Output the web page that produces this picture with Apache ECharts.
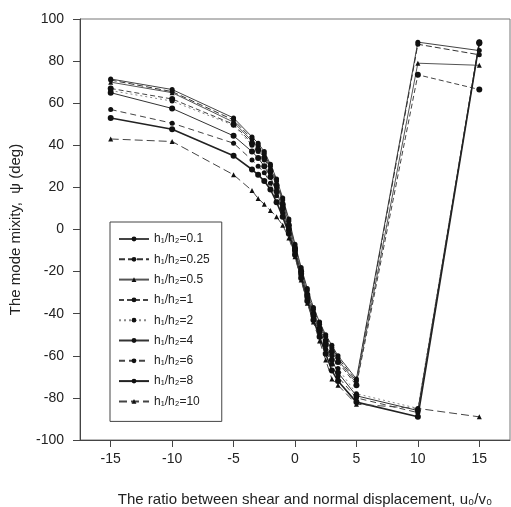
<!DOCTYPE html>
<html><head><meta charset="utf-8">
<script src="https://cdn.jsdelivr.net/npm/echarts@6/dist/echarts.min.js"></script>
<style>html,body{margin:0;padding:0;background:#fff}#c{width:511px;height:507px}</style>
</head><body><div id="c"></div>
<script>
// x positions (u0/v0) shared by every series
const xValues = [-15,-10,-5,-3.5,-3,-2.5,-2,-1.5,-1,-0.5,0,0.5,1,1.5,2,2.5,3,3.5,5,10,15];
const xTicks = [-15,-10,-5,0,5,10,15];
const seriesNames = ['h₁/h₂=0.1','h₁/h₂=0.25','h₁/h₂=0.5','h₁/h₂=1','h₁/h₂=2','h₁/h₂=4','h₁/h₂=6','h₁/h₂=8','h₁/h₂=10'];
const psi_01  = [71.5,66.5,53,44,41,37,31,24,15,5,-7,-18,-28,-37,-44,-50,-55,-60,-71,89,85];
const psi_025 = [71,65.5,52,43,40,36,30,23,14,4,-8,-19,-29,-38,-45,-51,-56,-61,-72,88,83];
const psi_05  = [70,65,51,42,39,35,29,22,13,3,-8,-19,-30,-39,-46,-52,-57,-62,-73,79,78];
const psi_1   = [67,62,50,41,38,34,28,21,12,2,-9,-20,-31,-40,-47,-53,-58,-63,-74,73.5,66.5];
const psi_2   = [66,61,49.5,40,37,33,27,20,11,1,-9,-20,-31,-40,-47,-54,-60,-66,-78,-85,89];
const psi_4   = [65,57.5,44.5,37,34,30,25,18,10,0,-10,-21,-32,-41,-48,-55,-62,-68,-79,-86,89];
const psi_6   = [57,50.5,41,33,30,27,22,16,8,-1,-11,-22,-33,-42,-49,-57,-64,-70,-80,-87,89];
const psi_8   = [53,47.6,35,28.5,26,23,19,13,6,-2,-12,-23,-34,-43,-51,-59,-67,-72,-82,-89,88.5];
const psi_10  = [43,41.8,26,18.5,14.7,12,9,6,2,-4,-13,-24,-35,-44,-53,-62,-71,-74,-83,-85,-89];
const allPsi = [psi_01,psi_025,psi_05,psi_1,psi_2,psi_4,psi_6,psi_8,psi_10];

const styles = [
  {type:'solid', width:1, color:'#444', symbol:'circle', size:5},
  {type:[6,3], width:1, color:'#333', symbol:'circle', size:5},
  {type:'solid', width:1, color:'#555', symbol:'triangle', size:5},
  {type:[5,3], width:1, color:'#444', symbol:'circle', size:6},
  {type:[2,3], width:1, color:'#888', symbol:'circle', size:5},
  {type:'solid', width:1, color:'#333', symbol:'circle', size:6},
  {type:[6,4], width:1, color:'#444', symbol:'circle', size:5},
  {type:'solid', width:1.6, color:'#222', symbol:'circle', size:6},
  {type:[8,4], width:1, color:'#444', symbol:'triangle', size:5}
];

const font = 'Arial, "Liberation Sans", sans-serif';
const chart = echarts.init(document.getElementById('c'), null, {renderer:'canvas'});
chart.setOption({
  animation:false,
  backgroundColor:'#fff',
  grid:{left:80,right:1,top:19,bottom:67,show:true,borderColor:'#777',borderWidth:1,containLabel:false,outerBoundsMode:'none'},
  xAxis:{
    type:'value',min:-17.5,max:17.5,
    axisLine:{show:true,onZero:false,lineStyle:{color:'#444',width:1}},
    axisTick:{show:true,length:7,customValues:xTicks,lineStyle:{color:'#444'}},
    axisLabel:{customValues:xTicks,fontSize:14,color:'#222',fontFamily:font,margin:12},
    splitLine:{show:false},
    name:'The ratio between shear and normal displacement, u₀/v₀',
    nameLocation:'middle',nameGap:52,
    nameTextStyle:{fontSize:15,color:'#222',fontFamily:font,padding:[0,0,0,20]}
  },
  yAxis:{
    type:'value',min:-100,max:100,interval:20,
    axisLine:{show:true,onZero:false,lineStyle:{color:'#444',width:1}},
    axisTick:{show:true,length:7,lineStyle:{color:'#444'}},
    axisLabel:{fontSize:14,color:'#222',fontFamily:font,margin:16},
    splitLine:{show:false},
    name:'The mode mixity,  ψ (deg)',
    nameLocation:'middle',nameGap:57,
    nameTextStyle:{fontSize:15,color:'#222',fontFamily:font}
  },
  legend:{
    orient:'vertical',left:110,top:222,
    padding:[11,12,14,8],itemGap:8.3,itemWidth:30,itemHeight:6,
    borderColor:'#444',borderWidth:1,backgroundColor:'#fff',
    textStyle:{fontSize:12,color:'#222',fontFamily:font,lineHeight:12},
    data:seriesNames
  },
  series: allPsi.map((vals,i)=>({
    name:seriesNames[i],type:'line',
    data:xValues.map((x,j)=>[x,vals[j]]),
    symbol:styles[i].symbol,symbolSize:styles[i].size,
    lineStyle:{type:styles[i].type,width:styles[i].width,color:styles[i].color},
    itemStyle:{color:'#111',borderWidth:0},
    emphasis:{disabled:true},z:2
  }))
});
</script></body></html>
